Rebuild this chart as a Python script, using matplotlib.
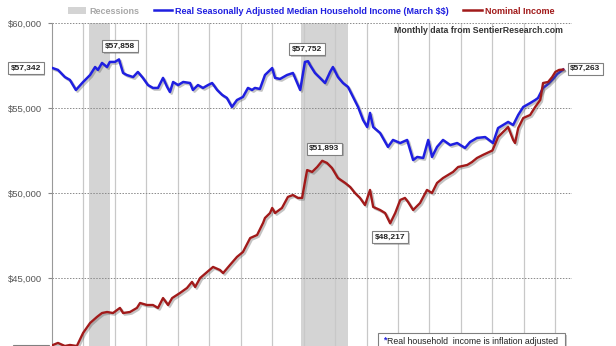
import matplotlib
matplotlib.use("Agg")
import matplotlib.pyplot as plt
import matplotlib.patheffects as pe
from matplotlib.patches import Patch, Rectangle
from matplotlib.lines import Line2D

plt.rcParams['font.family'] = ['Liberation Sans', 'DejaVu Sans']
plt.rcParams['text.parse_math'] = False

# real (inflation adjusted, March $$) median household income
real_t = [2000.03, 2000.19, 2000.41, 2000.57, 2000.76, 2000.99, 2001.21, 2001.37, 2001.46, 2001.59,
          2001.75, 2001.84, 2002.00, 2002.13, 2002.26, 2002.38, 2002.58, 2002.73, 2002.89, 2003.05,
          2003.21, 2003.37, 2003.53, 2003.66, 2003.75, 2003.85, 2004.01, 2004.17, 2004.39, 2004.48,
          2004.64, 2004.80, 2004.96, 2005.09, 2005.25, 2005.41, 2005.56, 2005.72, 2005.88, 2006.07,
          2006.23, 2006.36, 2006.45, 2006.61, 2006.77, 2007.00, 2007.09, 2007.25, 2007.47, 2007.66,
          2007.89, 2008.04, 2008.14, 2008.20, 2008.36, 2008.52, 2008.68, 2008.84, 2008.93, 2009.09,
          2009.25, 2009.41, 2009.57, 2009.73, 2009.89, 2010.02, 2010.11, 2010.21, 2010.43, 2010.68,
          2010.84, 2011.07, 2011.29, 2011.48, 2011.61, 2011.80, 2011.96, 2012.08, 2012.24, 2012.43,
          2012.66, 2012.88, 2013.13, 2013.29, 2013.51, 2013.77, 2014.02, 2014.18, 2014.34, 2014.50,
          2014.66, 2014.82, 2014.98, 2015.20, 2015.36, 2015.45, 2015.61, 2015.77, 2015.93, 2016.06,
          2016.25]
real_v = [57342, 57240, 56820, 56650, 56060, 56530, 56940, 57410, 57240, 57650,
          57410, 57710, 57710, 57858, 57060, 56940, 56820, 57120, 56770, 56350,
          56180, 56180, 56770, 56240, 55940, 56530, 56350, 56530, 56470, 56060,
          56350, 56180, 56350, 56470, 56060, 55770, 55590, 55060, 55470, 55650,
          56180, 56060, 56180, 56120, 56940, 57350, 56770, 56710, 56940, 57060,
          56060, 57710, 57752, 57530, 57060, 56770, 56470, 57120, 57410, 56820,
          56470, 56240, 55650, 55060, 54290, 53880, 54710, 53880, 53530, 52710,
          53120, 52940, 53120, 51940, 52120, 52060, 53120, 52120, 52710, 53120,
          52820, 52940, 52650, 53000, 53240, 53290, 52940, 53820, 54000, 54180,
          54000, 54590, 55060, 55290, 55470, 55590, 56180, 56410, 56710, 57000,
          57263]

# nominal median household income
nom_t = [2000.03, 2000.19, 2000.41, 2000.57, 2000.79, 2000.99, 2001.21, 2001.43, 2001.59, 2001.75,
         2001.94, 2002.16, 2002.26, 2002.48, 2002.70, 2002.80, 2003.02, 2003.21, 2003.37, 2003.53,
         2003.69, 2003.82, 2004.07, 2004.29, 2004.45, 2004.55, 2004.71, 2004.93, 2005.12, 2005.34,
         2005.44, 2005.66, 2005.88, 2006.07, 2006.30, 2006.52, 2006.71, 2006.77, 2006.93, 2007.00,
         2007.09, 2007.31, 2007.50, 2007.66, 2007.82, 2007.95, 2008.04, 2008.11, 2008.27, 2008.43,
         2008.59, 2008.74, 2008.90, 2009.09, 2009.32, 2009.48, 2009.63, 2009.79, 2009.95, 2010.11,
         2010.21, 2010.43, 2010.59, 2010.75, 2010.91, 2011.07, 2011.22, 2011.32, 2011.48, 2011.70,
         2011.92, 2012.08, 2012.24, 2012.43, 2012.59, 2012.75, 2012.91, 2013.20, 2013.35, 2013.51,
         2013.70, 2014.00, 2014.18, 2014.34, 2014.50, 2014.66, 2014.72, 2014.82, 2014.98, 2015.20,
         2015.36, 2015.52, 2015.61, 2015.77, 2015.90, 2016.00, 2016.12, 2016.25]
nom_v = [41060, 41180, 41000, 41060, 41000, 41770, 42350, 42710, 42940, 43000,
         42940, 43240, 42940, 43000, 43240, 43530, 43410, 43410, 43240, 43820,
         43410, 43820, 44120, 44410, 44770, 44470, 45000, 45350, 45650, 45470,
         45290, 45770, 46240, 46530, 47350, 47530, 48240, 48530, 48820, 49120,
         48820, 49120, 49770, 49880, 49710, 49710, 50650, 51350, 51240, 51530,
         51893, 51770, 51470, 50880, 50590, 50350, 50000, 49710, 49290, 50180,
         49180, 49000, 48820, 48217, 48820, 49590, 49710, 49470, 49000, 49410,
         50180, 50000, 50590, 50880, 51060, 51240, 51530, 51650, 51820, 52060,
         52240, 52500, 53290, 53590, 53880, 53120, 52940, 53820, 54410, 54590,
         55060, 55470, 56470, 56530, 56820, 57120, 57240, 57263]

recessions = [(2001.17, 2001.83), (2007.92, 2009.42)]
years = list(range(2000, 2017))
yticks = [45000, 50000, 55000, 60000]

# callouts: (index, pixel offset)
callouts_real = [(0, (-27, 0)), (13, (1, 13)), (52, (-1, 12)), (100, (22, 1))]
callouts_nom = [(50, (2, 12)), (63, (0, -14)), (0, (-22, -6))]

BLUE = '#1f1fe0'
RED = '#a11a1a'

fig = plt.figure(figsize=(6.16, 3.46), dpi=100)
ax = fig.add_axes([52 / 616, 1 - 363 / 346, 520 / 616, 340 / 346])

for a, b in recessions:
    ax.axvspan(a, b, color='#d4d4d4', lw=0, zorder=0)

for y in years[1:]:
    ax.axvline(y, color='#c8c8c8', lw=0.9, zorder=1)
for v in yticks:
    ax.axhline(v, color='#8a8a8a', lw=0.7, ls=(0, (1.5, 1.5)), zorder=1)

shadow = [pe.SimpleLineShadow(offset=(1.2, -1.2), shadow_color='#555555', alpha=0.35), pe.Normal()]
ax.plot(real_t, real_v, color=BLUE, lw=1.8, zorder=3, path_effects=shadow)
ax.plot(nom_t, nom_v, color=RED, lw=1.7, zorder=4, path_effects=shadow)

ax.set_xlim(2000, 2016.53)
ax.set_ylim(40000, 60000)
ax.set_yticks(yticks)
ax.set_yticklabels(['${:,}'.format(v) for v in yticks], color='#555555', fontsize=6.8)
ax.tick_params(axis='y', length=3, color='#888888', pad=4)
ax.set_xticks([])
for s in ['top', 'right', 'bottom']:
    ax.spines[s].set_visible(False)
ax.spines['left'].set_color('#999999')

box = dict(boxstyle='square,pad=0.3', fc='white', ec='#808080', lw=0.8,
           path_effects=[pe.withSimplePatchShadow(offset=(1.2, -1.2), alpha=0.3)])


def callout(t, v, off):
    ax.annotate('${:,}'.format(v), (t, v), xytext=off, textcoords='offset pixels',
                ha='center', va='center', fontsize=6, fontweight='bold', color='#222222',
                bbox=box, zorder=6, annotation_clip=False)


for i, off in callouts_real:
    callout(real_t[i], real_v[i], off)
for i, off in callouts_nom:
    callout(nom_t[i], nom_v[i], off)

ax.text(0.983, 0.979, 'Monthly data from SentierResearch.com', transform=ax.transAxes,
        ha='right', va='center', fontsize=6.3, fontweight='bold', color='#333333')

# footnote box
ax.add_patch(Rectangle((0.627, 0.0), 0.36, 0.088, transform=ax.transAxes, fc='white',
                       ec='#808080', lw=0.8, zorder=7, clip_on=False,
                       path_effects=[pe.withSimplePatchShadow(offset=(1.2, -1.2), alpha=0.3)]))
ax.text(0.636, 0.068, '*', transform=ax.transAxes, ha='left', va='center',
        fontsize=6.3, color=BLUE, fontweight='bold', zorder=8)
ax.text(0.645, 0.062, 'Real household  income is inflation adjusted', transform=ax.transAxes,
        ha='left', va='center', fontsize=6.3, color='#222222', zorder=8)

handles = [Patch(fc='#d4d4d4', ec='none'),
           Line2D([], [], color=BLUE, lw=1.8),
           Line2D([], [], color=RED, lw=1.8)]
labels = ['Recessions', 'Real Seasonally Adjusted Median Household Income (March $$)', 'Nominal Income']
leg = fig.legend(handles, labels, loc='center', bbox_to_anchor=(0.505, 0.968), ncol=3,
                 frameon=False, handlelength=2.0, handletextpad=0.4,
                 columnspacing=1.6, prop={'weight': 'bold', 'size': 6.5})
for txt, c in zip(leg.get_texts(), ['#a8a8a8', BLUE, RED]):
    txt.set_color(c)

fig.savefig('out.png', dpi=100)
